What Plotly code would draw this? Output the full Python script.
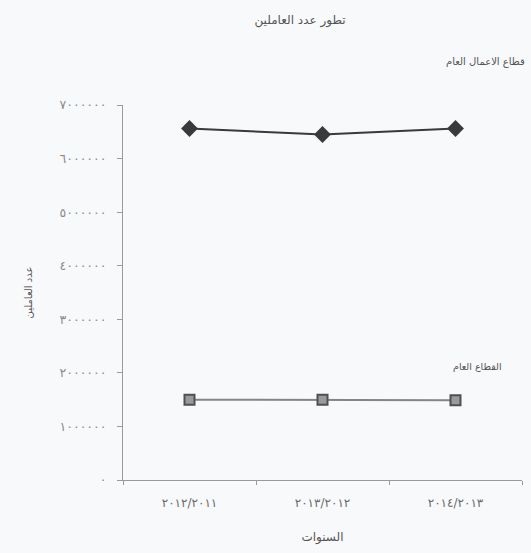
import plotly.graph_objects as go

years = ["٢٠١٢/٢٠١١", "٢٠١٣/٢٠١٢", "٢٠١٤/٢٠١٣"]
business_sector = [6560000, 6450000, 6560000]   # قطاع الاعمال العام
public_sector = [1500000, 1500000, 1490000]      # القطاع العام
y_ticks = [0, 1000000, 2000000, 3000000, 4000000, 5000000, 6000000, 7000000]
y_tick_text = ["٠", "١٠٠٠٠٠٠", "٢٠٠٠٠٠٠", "٣٠٠٠٠٠٠", "٤٠٠٠٠٠٠", "٥٠٠٠٠٠٠", "٦٠٠٠٠٠٠", "٧٠٠٠٠٠٠"]

FONT = "DejaVu Sans"
TXT = "#6a6a6a"
BG = "#f8f9fb"

fig = go.Figure()
fig.add_trace(go.Scatter(
    x=years, y=business_sector, mode="lines+markers",
    line=dict(color="#3a3a3a", width=2),
    marker=dict(symbol="diamond", size=13, color="#3a3a3a"),
    name="قطاع الاعمال العام", showlegend=False))
fig.add_trace(go.Scatter(
    x=years, y=public_sector, mode="lines+markers",
    line=dict(color="#858585", width=2),
    marker=dict(symbol="square", size=10, color="#9a9a9a", line=dict(color="#505050", width=2)),
    name="القطاع العام", showlegend=False))

fig.update_layout(
    width=531, height=553,
    margin=dict(l=123, r=9, t=105, b=73),
    paper_bgcolor=BG, plot_bgcolor=BG,
    font=dict(family=FONT, color=TXT, size=9),
    title=dict(text="تطور عدد العاملين", x=0.565, xanchor="center", y=0.964, yanchor="middle",
               font=dict(size=12, color="#555555", family=FONT)),
    xaxis=dict(type="category", showgrid=False, zeroline=False,
               showline=True, linecolor="#9a9a9a", linewidth=1,
               ticks="outside", ticklen=4, tickcolor="#9a9a9a", tickson="boundaries",
               ticklabelstandoff=12,
               tickfont=dict(size=12, color=TXT),
               title=dict(text="السنوات", font=dict(size=12, color="#555555"), standoff=23),
               range=[-0.5, 2.5]),
    yaxis=dict(range=[0, 7000000], tickvals=y_ticks, ticktext=y_tick_text,
               showgrid=False, zeroline=False,
               showline=True, linecolor="#9a9a9a", linewidth=1,
               ticks="outside", ticklen=5, tickcolor="#9a9a9a",
               ticklabelstandoff=8,
               tickfont=dict(size=12.5, color="#8a8a8a"),
               title=dict(text="عدد العاملين", font=dict(size=10, color="#555555"), standoff=25),
               ),
)

fig.add_annotation(text="قطاع الاعمال العام", x=1.012, xref="paper", xanchor="right",
                   y=1.115, yref="paper", yanchor="middle", showarrow=False,
                   font=dict(size=10, color="#555555"))
fig.add_annotation(text="القطاع العام", x=0.955, xref="paper", xanchor="right",
                   y=0.302, yref="paper", yanchor="middle", showarrow=False,
                   font=dict(size=9.5, color="#555555"))

fig.write_html("out.html", config={"displayModeBar": False},
               post_script="document.body.style.margin='0';document.body.style.background='" + BG + "';")
